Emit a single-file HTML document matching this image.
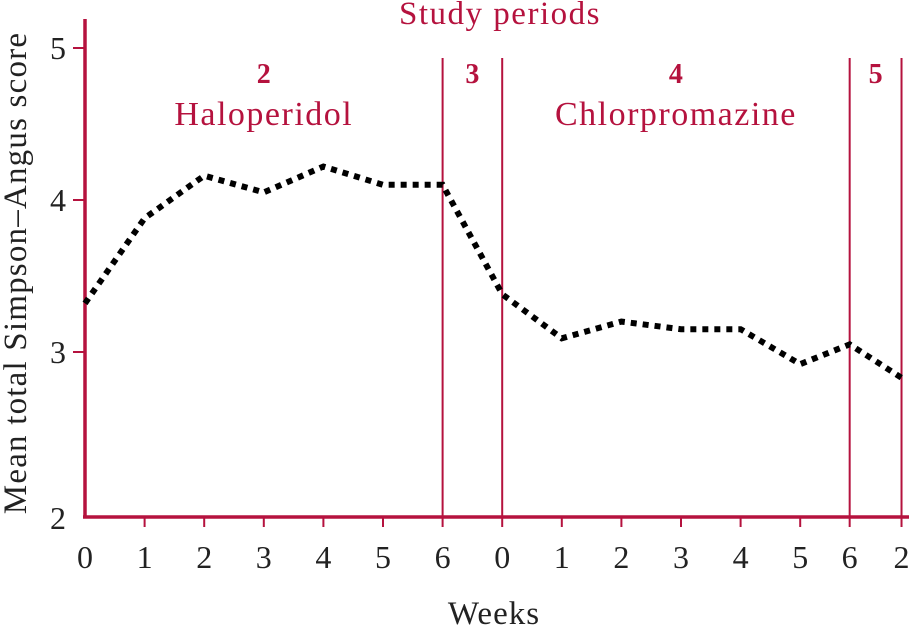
<!DOCTYPE html>
<html><head><meta charset="utf-8"><style>
body{margin:0;background:#fff}
svg{display:block;font-family:"Liberation Serif",serif}
</style></head><body>
<svg id="chart" width="909" height="627" viewBox="0 0 909 627"></svg>
<script>
const xLabels=["0","1","2","3","4","5","6","0","1","2","3","4","5","6","2"];
const xPos=[0,1,2,3,4,5,6,7,8,9,10,11,12,12.83,13.7];
const scores=[3.32,3.88,4.16,4.05,4.22,4.1,4.1,3.38,3.09,3.2,3.15,3.15,2.92,3.05,2.83];
const yTicks=[5,4,3];
const dividers=[6,7,12.83,13.7];
const periods=[{n:"2",d:"Haloperidol",a:0,b:6},{n:"3",d:"",a:6,b:7},{n:"4",d:"Chlorpromazine",a:7,b:12.83},{n:"5",d:"",a:12.83,b:13.7}];
const C="#b5123e";
const svg=document.getElementById('chart');
const NS="http://www.w3.org/2000/svg";
function xs(i){return 85+i*59.6;}
function ys(v){return 200-(v-4)*152;}
function mk(tag,attrs,text){const e=document.createElementNS(NS,tag);for(const k in attrs)e.setAttribute(k,attrs[k]);if(text!==undefined)e.textContent=text;svg.appendChild(e);return e;}
let e;
dividers.forEach(d=>{e=mk('line',{x1:xs(d),x2:xs(d),y1:58,y2:517,stroke:C,'stroke-width':2});

});
e=mk('line',{x1:85,x2:85,y1:19,y2:518,stroke:C,'stroke-width':3.5});


e=mk('line',{x1:83,x2:909,y1:517,y2:517,stroke:C,'stroke-width':3.5});


yTicks.forEach(v=>{
e=mk('line',{x1:73,x2:85,y1:ys(v),y2:ys(v),stroke:C,'stroke-width':2});


e=mk('text',{x:66,y:ys(v)+11,'text-anchor':'end','font-size':32,fill:'#222'},String(v));

});
e=mk('text',{x:66,y:529,'text-anchor':'end','font-size':32,fill:'#222'},"2");


xLabels.forEach((l,i)=>{
if(i>0){e=mk('line',{x1:xs(xPos[i]),x2:xs(xPos[i]),y1:517,y2:527,stroke:C,'stroke-width':2});

}
e=mk('text',{x:xs(xPos[i]),y:568,'text-anchor':'middle','font-size':32,fill:'#222'},l);

});
const pts=scores.map((v,i)=>xs(xPos[i])+','+ys(v)).join(' ');
e=mk('polyline',{points:pts,fill:'none',stroke:'#000','stroke-width':6,'stroke-dasharray':'6 6'});


periods.forEach(p=>{const cx=(xs(p.a)+xs(p.b))/2;
e=mk('text',{x:cx,y:83,'text-anchor':'middle','font-size':28,'font-weight':'bold',fill:C},p.n);


if(p.d){e=mk('text',{x:cx,y:125,'text-anchor':'middle','font-size':34,'letter-spacing':1.5,fill:C},p.d);

}});
e=mk('text',{x:500,y:24,'text-anchor':'middle','font-size':33,'letter-spacing':1.5,fill:C},"Study periods");


e=mk('text',{x:494,y:624,'text-anchor':'middle','font-size':33,'letter-spacing':1,fill:'#222'},"Weeks");


e=mk('text',{x:0,y:0,'text-anchor':'middle','font-size':33,'letter-spacing':1.2,fill:'#222',transform:'translate(26,273) rotate(-90)'},"Mean total Simpson–Angus score");


</script>
</body></html>
